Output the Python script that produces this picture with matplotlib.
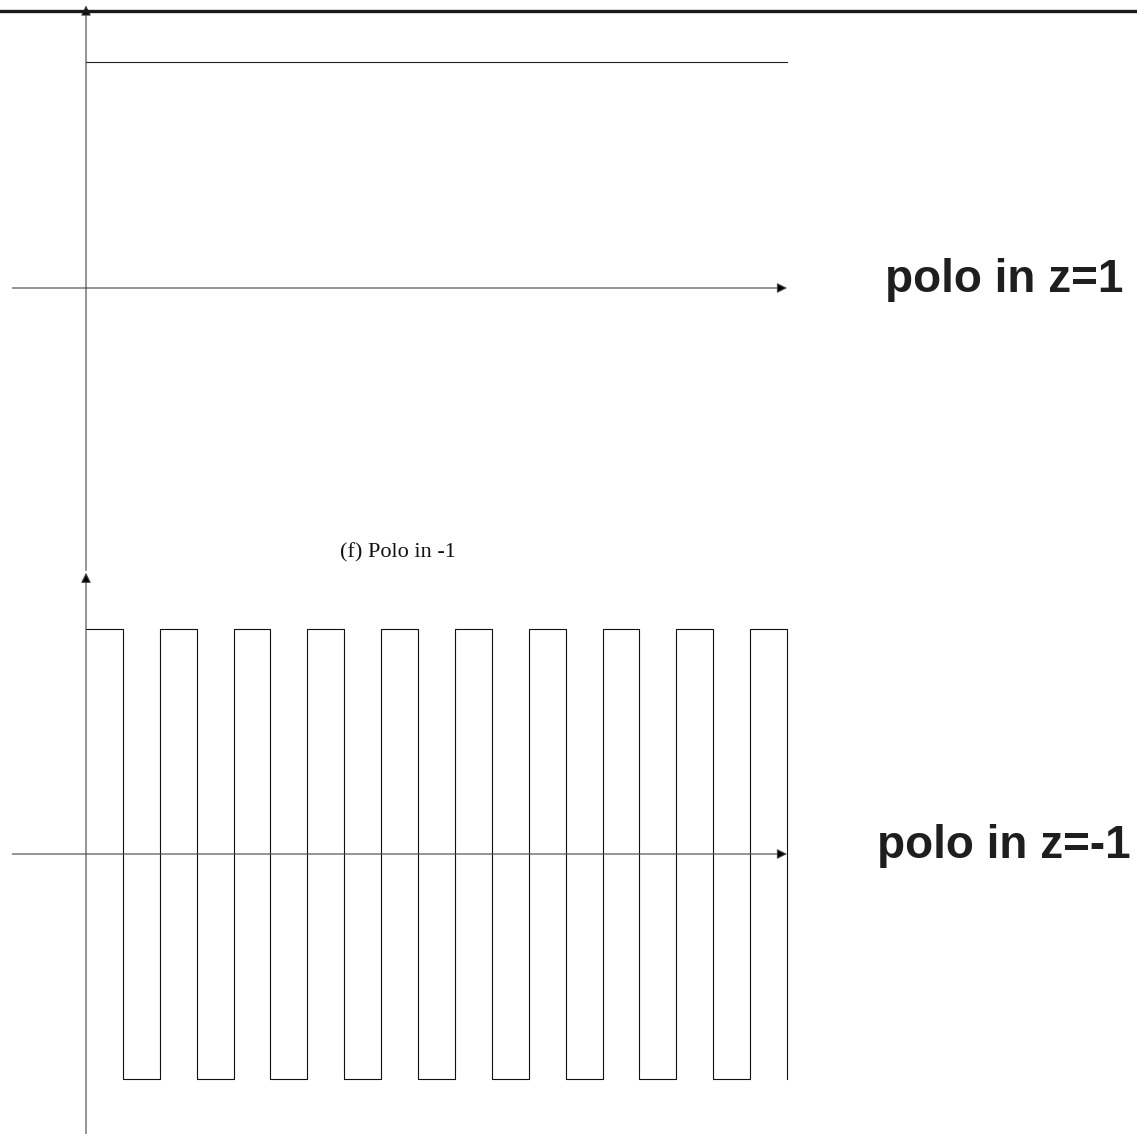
import numpy as np
import matplotlib.pyplot as plt
from matplotlib.lines import Line2D

# dati
n = list(range(0, 20))
y_polo1 = [1, 1, 1, 1, 1, 1, 1, 1, 1, 1, 1, 1, 1, 1, 1, 1, 1, 1, 1, 1]
y_polom1 = [1, -1, 1, -1, 1, -1, 1, -1, 1, -1, 1, -1, 1, -1, 1, -1, 1, -1, 1, -1]
label_top = 'polo in z=1'
label_bot = 'polo in z=-1'
caption = '(f) Polo in -1'

W, H = 1137, 1134
fig = plt.figure(figsize=(W / 100, H / 100), dpi=100)

# scala in pixel: n=0 -> x=86, n=19 -> x=787
sx = (787 - 86) / 19.0
xlim = (-86 / sx, (W - 86) / sx)

axcol = '#444444'
arrow = dict(arrowstyle='-|>', ec=axcol, fc='black', lw=0.8, mutation_scale=15,
             shrinkA=0, shrinkB=0)


def draw_axes(ax, y0pix, unit, ybot, ytop):
    ax.set_xlim(xlim)
    ax.set_ylim(-(ybot - y0pix) / unit, (y0pix - ytop) / unit)
    ax.axis('off')
    ax.annotate('', xy=(19, 0), xytext=(-2, 0), arrowprops=arrow)
    ax.annotate('', xy=(0, 1.25), xytext=(0, -1.25), arrowprops=arrow, annotation_clip=False)


ax1 = fig.add_axes([0, 1 - 572 / H, 1, 572 / H])
draw_axes(ax1, 288, 226, 572, 0)
ax1.plot(n, y_polo1, drawstyle='steps-post', color='#222222', lw=0.8)

ax2 = fig.add_axes([0, 0, 1, 1 - 572 / H])
draw_axes(ax2, 854 - 572, 225, H - 572, 0)
ax2.plot(n, y_polom1, drawstyle='steps-post', color='#111111', lw=0.8)

fig.text(885 / W, 1 - 292 / H, label_top, fontsize=33, fontweight='bold',
         family='Liberation Sans', color='#1e1e1e', ha='left', va='baseline')
fig.text(877 / W, 1 - 858 / H, label_bot, fontsize=33, fontweight='bold',
         family='Liberation Sans', color='#1e1e1e', ha='left', va='baseline')
fig.text(398 / W, 1 - 557 / H, caption, fontsize=16, family='Liberation Serif',
         color='#111111', ha='center', va='baseline')

# riga spessa in alto
fig.add_artist(Line2D([0, 1], [1 - 10.5 / H, 1 - 10.5 / H], transform=fig.transFigure,
                      color='#1a1a1a', lw=2.4))

plt.savefig('out.png', dpi=100)
